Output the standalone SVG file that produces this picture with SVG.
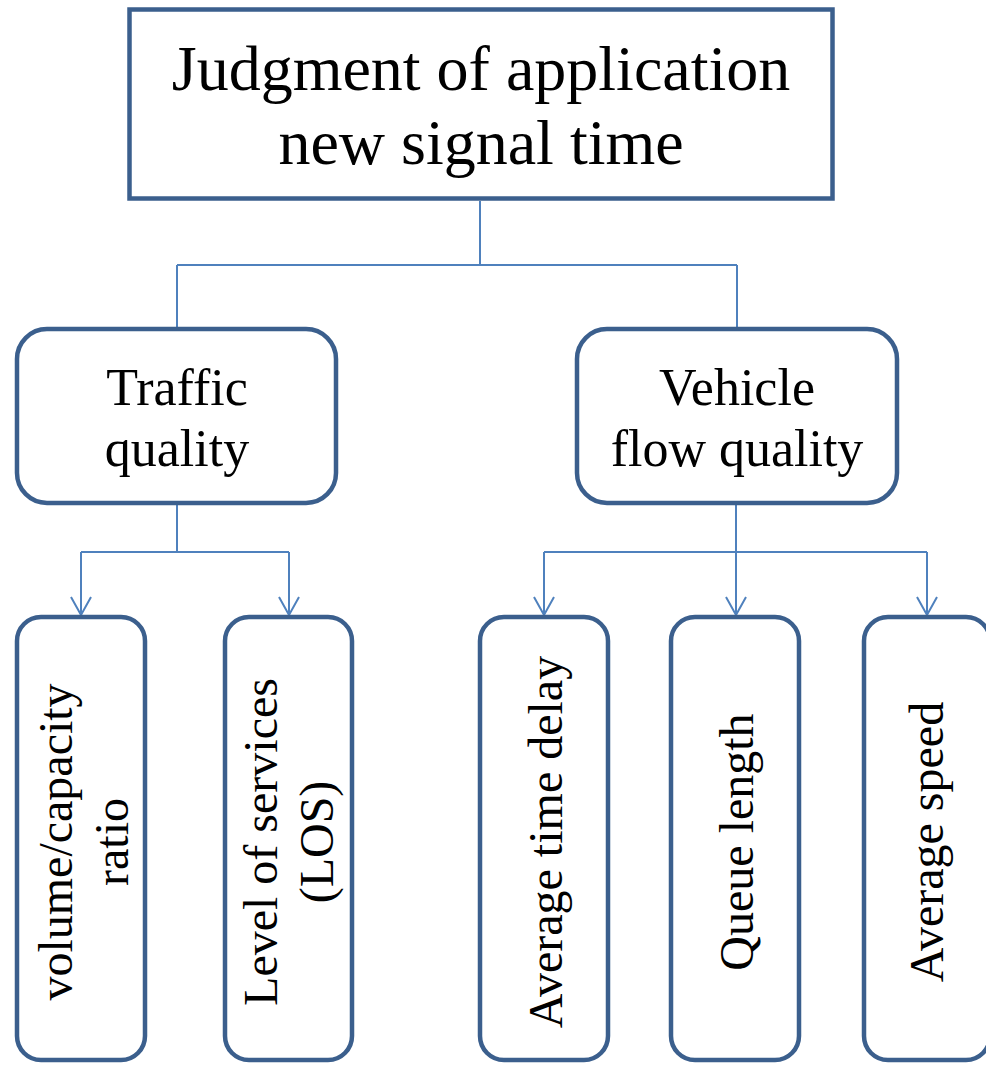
<svg xmlns="http://www.w3.org/2000/svg" width="986" height="1065" viewBox="0 0 986 1065">
<defs>
<style>
.box{fill:#fff;stroke:#3b5f8d;stroke-width:4.5}
.conn{fill:none;stroke:#4f81bd;stroke-width:2}
.t{font-family:"Liberation Serif","Times New Roman",serif;fill:#000;text-anchor:middle}
.big{font-size:64px}
.mid{font-size:52px}
.sm{font-size:48px}
</style>
</defs>
<rect width="986" height="1065" fill="#fff"/>
<g id="connectors">
<path class="conn" d="M480,201 V265 M177,265 H737 M177,265 V327 M737,265 V327"/>
<path class="conn" d="M177,505 V552 M81,552 H289"/>
<path class="conn" d="M736,505 V552 M544,552 H927"/>
<path class="conn" d="M81,552 V614 M71,597 L81,615 L91,597"/>
<path class="conn" d="M289,552 V614 M279,597 L289,615 L299,597"/>
<path class="conn" d="M544,552 V614 M534,597 L544,615 L554,597"/>
<path class="conn" d="M736,552 V614 M726,597 L736,615 L746,597"/>
<path class="conn" d="M927,552 V614 M917,597 L927,615 L937,597"/>
</g>
<g id="n-top">
<rect class="box" x="129.5" y="9.5" width="703" height="189"/>
<text class="t big" x="481" y="90">Judgment of application</text>
<text class="t big" x="481" y="164">new signal time</text>
</g>
<g id="n-traffic">
<rect class="box" x="17" y="329" width="319" height="174" rx="30"/>
<text class="t mid" x="177" y="405">Traffic</text>
<text class="t mid" x="177" y="466">quality</text>
</g>
<g id="n-vehicle">
<rect class="box" x="577" y="329" width="320" height="174" rx="30"/>
<text class="t mid" x="737" y="405">Vehicle</text>
<text class="t mid" x="737" y="466">flow quality</text>
</g>
<g id="n-vc">
<rect class="box" x="17" y="617" width="128" height="443" rx="24"/>
<text class="t sm" transform="translate(72,842) rotate(-90)">volume/capacity</text>
<text class="t sm" transform="translate(128,842) rotate(-90)">ratio</text>
</g>
<g id="n-los">
<rect class="box" x="225" y="617" width="127" height="443" rx="24"/>
<text class="t sm" transform="translate(277,842) rotate(-90)">Level of services</text>
<text class="t sm" transform="translate(333,842) rotate(-90)">(LOS)</text>
</g>
<g id="n-delay">
<rect class="box" x="480" y="617" width="128" height="443" rx="24"/>
<text class="t sm" transform="translate(562,842) rotate(-90)">Average time delay</text>
</g>
<g id="n-queue">
<rect class="box" x="671" y="617" width="128" height="443" rx="24"/>
<text class="t sm" transform="translate(753,842) rotate(-90)">Queue length</text>
</g>
<g id="n-speed">
<rect class="box" x="864" y="617" width="126" height="443" rx="24"/>
<text class="t sm" transform="translate(943,842) rotate(-90)">Average speed</text>
</g>
</svg>
